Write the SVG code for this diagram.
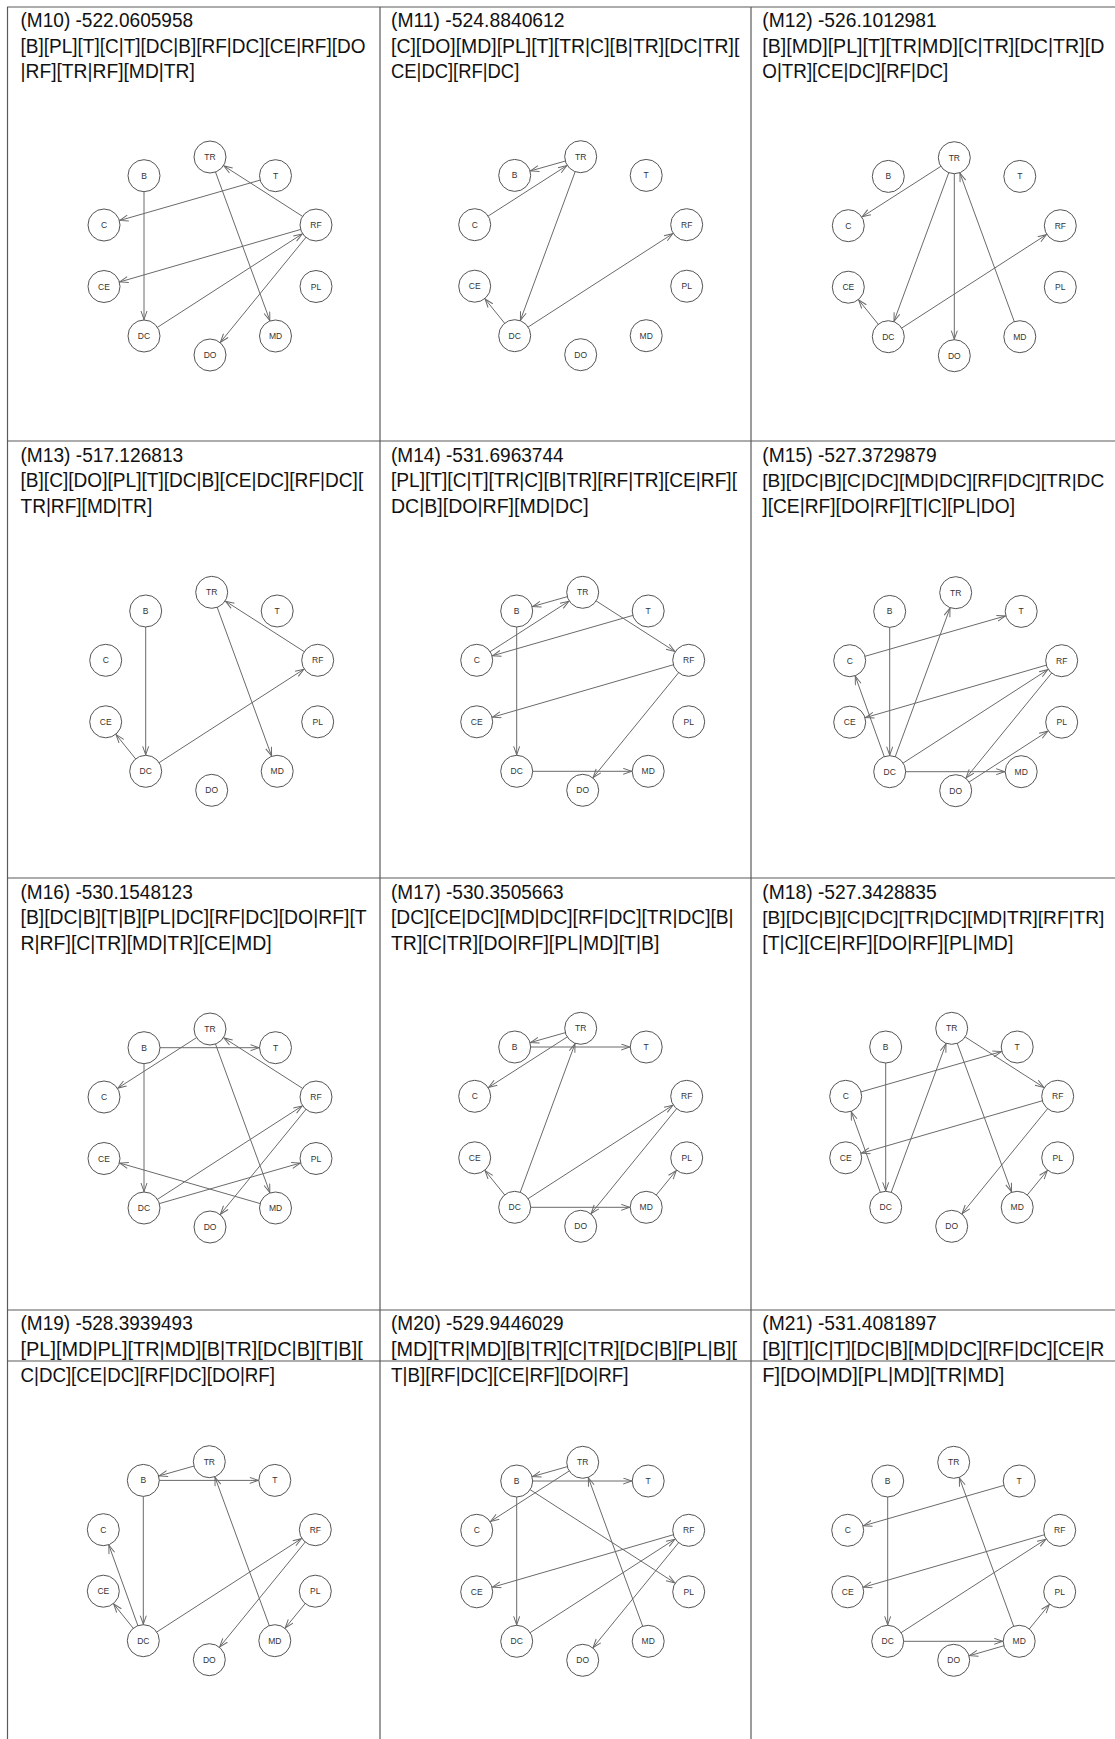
<svg xmlns="http://www.w3.org/2000/svg" width="1115" height="1739" viewBox="0 0 1115 1739">
<style>
.grid line{stroke:#5a5a5a;stroke-width:1.2}
.t{font-family:"Liberation Sans",Arial,sans-serif;font-size:20px;fill:#111}
.n circle{fill:#fff;stroke:#555;stroke-width:1}
.n text{font-family:"Liberation Sans",Arial,sans-serif;font-size:8.5px;fill:#333;text-anchor:middle}
.e line{stroke:#6a6a6a;stroke-width:1;marker-end:url(#a)}
</style>
<defs>
<marker id="a" markerUnits="userSpaceOnUse" markerWidth="10" markerHeight="8" refX="25.5" refY="3.5" orient="auto"><path d="M0.5,0.5 L9,3.5 L0.5,6.5" fill="none" stroke="#6a6a6a" stroke-width="1"/></marker>
</defs>
<rect width="1115" height="1739" fill="#fff"/>
<g id="grid" class="grid">
<line x1="7" y1="7" x2="1115" y2="7"/>
<line x1="7" y1="441" x2="1115" y2="441"/>
<line x1="7" y1="878" x2="1115" y2="878"/>
<line x1="7" y1="1310" x2="1115" y2="1310"/>
<line x1="7" y1="1361" x2="1115" y2="1361"/>
<line x1="7.5" y1="7" x2="7.5" y2="1739"/>
<line x1="380" y1="7" x2="380" y2="1739"/>
<line x1="751" y1="7" x2="751" y2="1739"/>
</g>
<g id="titles" class="t">
<text x="20.5" y="27.3" textLength="172.6" lengthAdjust="spacingAndGlyphs">(M10) -522.0605958</text>
<text x="20.5" y="52.8" textLength="345" lengthAdjust="spacingAndGlyphs">[B][PL][T][C|T][DC|B][RF|DC][CE|RF][DO</text>
<text x="20.5" y="78.3" textLength="174.3" lengthAdjust="spacingAndGlyphs">|RF][TR|RF][MD|TR]</text>
<text x="391" y="27.3" textLength="173.6" lengthAdjust="spacingAndGlyphs">(M11) -524.8840612</text>
<text x="391" y="52.8" textLength="348.3" lengthAdjust="spacingAndGlyphs">[C][DO][MD][PL][T][TR|C][B|TR][DC|TR][</text>
<text x="391" y="78.3" textLength="128.3" lengthAdjust="spacingAndGlyphs">CE|DC][RF|DC]</text>
<text x="762.3" y="27.3" textLength="174.4" lengthAdjust="spacingAndGlyphs">(M12) -526.1012981</text>
<text x="762.3" y="52.8" textLength="342" lengthAdjust="spacingAndGlyphs">[B][MD][PL][T][TR|MD][C|TR][DC|TR][D</text>
<text x="762.3" y="78.3" textLength="186" lengthAdjust="spacingAndGlyphs">O|TR][CE|DC][RF|DC]</text>
<text x="20.5" y="461.7" textLength="162.7" lengthAdjust="spacingAndGlyphs">(M13) -517.126813</text>
<text x="20.5" y="487.3" textLength="342.7" lengthAdjust="spacingAndGlyphs">[B][C][DO][PL][T][DC|B][CE|DC][RF|DC][</text>
<text x="20.5" y="513.3" textLength="131.7" lengthAdjust="spacingAndGlyphs">TR|RF][MD|TR]</text>
<text x="391" y="461.7" textLength="172.6" lengthAdjust="spacingAndGlyphs">(M14) -531.6963744</text>
<text x="391" y="487.3" textLength="346" lengthAdjust="spacingAndGlyphs">[PL][T][C|T][TR|C][B|TR][RF|TR][CE|RF][</text>
<text x="391" y="513.3" textLength="197.6" lengthAdjust="spacingAndGlyphs">DC|B][DO|RF][MD|DC]</text>
<text x="762.3" y="461.7" textLength="174.4" lengthAdjust="spacingAndGlyphs">(M15) -527.3729879</text>
<text x="762.3" y="487.3" font-size="19" textLength="342" lengthAdjust="spacingAndGlyphs">[B][DC|B][C|DC][MD|DC][RF|DC][TR|DC</text>
<text x="762.3" y="513.3" textLength="252.7" lengthAdjust="spacingAndGlyphs">][CE|RF][DO|RF][T|C][PL|DO]</text>
<text x="20.5" y="898.5" textLength="172.2" lengthAdjust="spacingAndGlyphs">(M16) -530.1548123</text>
<text x="20.5" y="924.3" textLength="346.2" lengthAdjust="spacingAndGlyphs">[B][DC|B][T|B][PL|DC][RF|DC][DO|RF][T</text>
<text x="20.5" y="950.3" textLength="251.2" lengthAdjust="spacingAndGlyphs">R|RF][C|TR][MD|TR][CE|MD]</text>
<text x="391" y="898.5" textLength="172.6" lengthAdjust="spacingAndGlyphs">(M17) -530.3505663</text>
<text x="391" y="924.3" textLength="342.6" lengthAdjust="spacingAndGlyphs">[DC][CE|DC][MD|DC][RF|DC][TR|DC][B|</text>
<text x="391" y="950.3" textLength="268.3" lengthAdjust="spacingAndGlyphs">TR][C|TR][DO|RF][PL|MD][T|B]</text>
<text x="762.3" y="898.5" textLength="174.4" lengthAdjust="spacingAndGlyphs">(M18) -527.3428835</text>
<text x="762.3" y="924.3" font-size="19" textLength="342" lengthAdjust="spacingAndGlyphs">[B][DC|B][C|DC][TR|DC][MD|TR][RF|TR]</text>
<text x="762.3" y="950.3" textLength="251" lengthAdjust="spacingAndGlyphs">[T|C][CE|RF][DO|RF][PL|MD]</text>
<text x="20.5" y="1330" textLength="172.2" lengthAdjust="spacingAndGlyphs">(M19) -528.3939493</text>
<text x="20.5" y="1356" textLength="342.2" lengthAdjust="spacingAndGlyphs">[PL][MD|PL][TR|MD][B|TR][DC|B][T|B][</text>
<text x="20.5" y="1382.3" textLength="254.5" lengthAdjust="spacingAndGlyphs">C|DC][CE|DC][RF|DC][DO|RF]</text>
<text x="391" y="1330" textLength="172.6" lengthAdjust="spacingAndGlyphs">(M20) -529.9446029</text>
<text x="391" y="1356" textLength="346" lengthAdjust="spacingAndGlyphs">[MD][TR|MD][B|TR][C|TR][DC|B][PL|B][</text>
<text x="391" y="1382.3" textLength="237.6" lengthAdjust="spacingAndGlyphs">T|B][RF|DC][CE|RF][DO|RF]</text>
<text x="762.3" y="1330" textLength="174.4" lengthAdjust="spacingAndGlyphs">(M21) -531.4081897</text>
<text x="762.3" y="1356" textLength="342" lengthAdjust="spacingAndGlyphs">[B][T][C|T][DC|B][MD|DC][RF|DC][CE|R</text>
<text x="762.3" y="1382.3" textLength="242" lengthAdjust="spacingAndGlyphs">F][DO|MD][PL|MD][TR|MD]</text>
</g>

<g id="m10" transform="translate(210,157)">
<g id="m10-edges" class="e">
<line x1="65.5" y1="18.7" x2="-106" y2="68"/>
<line x1="-66" y1="18.7" x2="-66" y2="179"/>
<line x1="-66" y1="179" x2="106" y2="68"/>
<line x1="106" y1="68" x2="-106" y2="129.5"/>
<line x1="106" y1="68" x2="0" y2="198"/>
<line x1="106" y1="68" x2="0" y2="0"/>
<line x1="0" y1="0" x2="65.5" y2="179"/>
</g>
<g id="m10-TR" class="n"><circle cx="0" cy="0" r="16"/><text x="0" y="3">TR</text></g>
<g id="m10-B" class="n"><circle cx="-66" cy="18.7" r="16"/><text x="-66" y="21.7">B</text></g>
<g id="m10-T" class="n"><circle cx="65.5" cy="18.7" r="16"/><text x="65.5" y="21.7">T</text></g>
<g id="m10-C" class="n"><circle cx="-106" cy="68" r="16"/><text x="-106" y="71">C</text></g>
<g id="m10-RF" class="n"><circle cx="106" cy="68" r="16"/><text x="106" y="71">RF</text></g>
<g id="m10-CE" class="n"><circle cx="-106" cy="129.5" r="16"/><text x="-106" y="132.5">CE</text></g>
<g id="m10-PL" class="n"><circle cx="106" cy="129.5" r="16"/><text x="106" y="132.5">PL</text></g>
<g id="m10-DC" class="n"><circle cx="-66" cy="179" r="16"/><text x="-66" y="182">DC</text></g>
<g id="m10-MD" class="n"><circle cx="65.5" cy="179" r="16"/><text x="65.5" y="182">MD</text></g>
<g id="m10-DO" class="n"><circle cx="0" cy="198" r="16"/><text x="0" y="201">DO</text></g>
</g>

<g id="m11" transform="translate(580.7,156.7)">
<g id="m11-edges" class="e">
<line x1="-106" y1="68" x2="0" y2="0"/>
<line x1="0" y1="0" x2="-66" y2="18.7"/>
<line x1="0" y1="0" x2="-66" y2="179"/>
<line x1="-66" y1="179" x2="-106" y2="129.5"/>
<line x1="-66" y1="179" x2="106" y2="68"/>
</g>
<g id="m11-TR" class="n"><circle cx="0" cy="0" r="16"/><text x="0" y="3">TR</text></g>
<g id="m11-B" class="n"><circle cx="-66" cy="18.7" r="16"/><text x="-66" y="21.7">B</text></g>
<g id="m11-T" class="n"><circle cx="65.5" cy="18.7" r="16"/><text x="65.5" y="21.7">T</text></g>
<g id="m11-C" class="n"><circle cx="-106" cy="68" r="16"/><text x="-106" y="71">C</text></g>
<g id="m11-RF" class="n"><circle cx="106" cy="68" r="16"/><text x="106" y="71">RF</text></g>
<g id="m11-CE" class="n"><circle cx="-106" cy="129.5" r="16"/><text x="-106" y="132.5">CE</text></g>
<g id="m11-PL" class="n"><circle cx="106" cy="129.5" r="16"/><text x="106" y="132.5">PL</text></g>
<g id="m11-DC" class="n"><circle cx="-66" cy="179" r="16"/><text x="-66" y="182">DC</text></g>
<g id="m11-MD" class="n"><circle cx="65.5" cy="179" r="16"/><text x="65.5" y="182">MD</text></g>
<g id="m11-DO" class="n"><circle cx="0" cy="198" r="16"/><text x="0" y="201">DO</text></g>
</g>

<g id="m12" transform="translate(954.3,157.7)">
<g id="m12-edges" class="e">
<line x1="65.5" y1="179" x2="0" y2="0"/>
<line x1="0" y1="0" x2="-106" y2="68"/>
<line x1="0" y1="0" x2="-66" y2="179"/>
<line x1="0" y1="0" x2="0" y2="198"/>
<line x1="-66" y1="179" x2="-106" y2="129.5"/>
<line x1="-66" y1="179" x2="106" y2="68"/>
</g>
<g id="m12-TR" class="n"><circle cx="0" cy="0" r="16"/><text x="0" y="3">TR</text></g>
<g id="m12-B" class="n"><circle cx="-66" cy="18.7" r="16"/><text x="-66" y="21.7">B</text></g>
<g id="m12-T" class="n"><circle cx="65.5" cy="18.7" r="16"/><text x="65.5" y="21.7">T</text></g>
<g id="m12-C" class="n"><circle cx="-106" cy="68" r="16"/><text x="-106" y="71">C</text></g>
<g id="m12-RF" class="n"><circle cx="106" cy="68" r="16"/><text x="106" y="71">RF</text></g>
<g id="m12-CE" class="n"><circle cx="-106" cy="129.5" r="16"/><text x="-106" y="132.5">CE</text></g>
<g id="m12-PL" class="n"><circle cx="106" cy="129.5" r="16"/><text x="106" y="132.5">PL</text></g>
<g id="m12-DC" class="n"><circle cx="-66" cy="179" r="16"/><text x="-66" y="182">DC</text></g>
<g id="m12-MD" class="n"><circle cx="65.5" cy="179" r="16"/><text x="65.5" y="182">MD</text></g>
<g id="m12-DO" class="n"><circle cx="0" cy="198" r="16"/><text x="0" y="201">DO</text></g>
</g>

<g id="m13" transform="translate(211.7,592.3)">
<g id="m13-edges" class="e">
<line x1="-66" y1="18.7" x2="-66" y2="179"/>
<line x1="-66" y1="179" x2="-106" y2="129.5"/>
<line x1="-66" y1="179" x2="106" y2="68"/>
<line x1="106" y1="68" x2="0" y2="0"/>
<line x1="0" y1="0" x2="65.5" y2="179"/>
</g>
<g id="m13-TR" class="n"><circle cx="0" cy="0" r="16"/><text x="0" y="3">TR</text></g>
<g id="m13-B" class="n"><circle cx="-66" cy="18.7" r="16"/><text x="-66" y="21.7">B</text></g>
<g id="m13-T" class="n"><circle cx="65.5" cy="18.7" r="16"/><text x="65.5" y="21.7">T</text></g>
<g id="m13-C" class="n"><circle cx="-106" cy="68" r="16"/><text x="-106" y="71">C</text></g>
<g id="m13-RF" class="n"><circle cx="106" cy="68" r="16"/><text x="106" y="71">RF</text></g>
<g id="m13-CE" class="n"><circle cx="-106" cy="129.5" r="16"/><text x="-106" y="132.5">CE</text></g>
<g id="m13-PL" class="n"><circle cx="106" cy="129.5" r="16"/><text x="106" y="132.5">PL</text></g>
<g id="m13-DC" class="n"><circle cx="-66" cy="179" r="16"/><text x="-66" y="182">DC</text></g>
<g id="m13-MD" class="n"><circle cx="65.5" cy="179" r="16"/><text x="65.5" y="182">MD</text></g>
<g id="m13-DO" class="n"><circle cx="0" cy="198" r="16"/><text x="0" y="201">DO</text></g>
</g>

<g id="m14" transform="translate(582.7,592.3)">
<g id="m14-edges" class="e">
<line x1="65.5" y1="18.7" x2="-106" y2="68"/>
<line x1="-106" y1="68" x2="0" y2="0"/>
<line x1="0" y1="0" x2="-66" y2="18.7"/>
<line x1="0" y1="0" x2="106" y2="68"/>
<line x1="106" y1="68" x2="-106" y2="129.5"/>
<line x1="-66" y1="18.7" x2="-66" y2="179"/>
<line x1="106" y1="68" x2="0" y2="198"/>
<line x1="-66" y1="179" x2="65.5" y2="179"/>
</g>
<g id="m14-TR" class="n"><circle cx="0" cy="0" r="16"/><text x="0" y="3">TR</text></g>
<g id="m14-B" class="n"><circle cx="-66" cy="18.7" r="16"/><text x="-66" y="21.7">B</text></g>
<g id="m14-T" class="n"><circle cx="65.5" cy="18.7" r="16"/><text x="65.5" y="21.7">T</text></g>
<g id="m14-C" class="n"><circle cx="-106" cy="68" r="16"/><text x="-106" y="71">C</text></g>
<g id="m14-RF" class="n"><circle cx="106" cy="68" r="16"/><text x="106" y="71">RF</text></g>
<g id="m14-CE" class="n"><circle cx="-106" cy="129.5" r="16"/><text x="-106" y="132.5">CE</text></g>
<g id="m14-PL" class="n"><circle cx="106" cy="129.5" r="16"/><text x="106" y="132.5">PL</text></g>
<g id="m14-DC" class="n"><circle cx="-66" cy="179" r="16"/><text x="-66" y="182">DC</text></g>
<g id="m14-MD" class="n"><circle cx="65.5" cy="179" r="16"/><text x="65.5" y="182">MD</text></g>
<g id="m14-DO" class="n"><circle cx="0" cy="198" r="16"/><text x="0" y="201">DO</text></g>
</g>

<g id="m15" transform="translate(955.7,592.7)">
<g id="m15-edges" class="e">
<line x1="-66" y1="18.7" x2="-66" y2="179"/>
<line x1="-66" y1="179" x2="-106" y2="68"/>
<line x1="-66" y1="179" x2="65.5" y2="179"/>
<line x1="-66" y1="179" x2="106" y2="68"/>
<line x1="-66" y1="179" x2="0" y2="0"/>
<line x1="106" y1="68" x2="-106" y2="129.5"/>
<line x1="106" y1="68" x2="0" y2="198"/>
<line x1="-106" y1="68" x2="65.5" y2="18.7"/>
<line x1="0" y1="198" x2="106" y2="129.5"/>
</g>
<g id="m15-TR" class="n"><circle cx="0" cy="0" r="16"/><text x="0" y="3">TR</text></g>
<g id="m15-B" class="n"><circle cx="-66" cy="18.7" r="16"/><text x="-66" y="21.7">B</text></g>
<g id="m15-T" class="n"><circle cx="65.5" cy="18.7" r="16"/><text x="65.5" y="21.7">T</text></g>
<g id="m15-C" class="n"><circle cx="-106" cy="68" r="16"/><text x="-106" y="71">C</text></g>
<g id="m15-RF" class="n"><circle cx="106" cy="68" r="16"/><text x="106" y="71">RF</text></g>
<g id="m15-CE" class="n"><circle cx="-106" cy="129.5" r="16"/><text x="-106" y="132.5">CE</text></g>
<g id="m15-PL" class="n"><circle cx="106" cy="129.5" r="16"/><text x="106" y="132.5">PL</text></g>
<g id="m15-DC" class="n"><circle cx="-66" cy="179" r="16"/><text x="-66" y="182">DC</text></g>
<g id="m15-MD" class="n"><circle cx="65.5" cy="179" r="16"/><text x="65.5" y="182">MD</text></g>
<g id="m15-DO" class="n"><circle cx="0" cy="198" r="16"/><text x="0" y="201">DO</text></g>
</g>

<g id="m16" transform="translate(210,1029)">
<g id="m16-edges" class="e">
<line x1="-66" y1="18.7" x2="-66" y2="179"/>
<line x1="-66" y1="18.7" x2="65.5" y2="18.7"/>
<line x1="-66" y1="179" x2="106" y2="129.5"/>
<line x1="-66" y1="179" x2="106" y2="68"/>
<line x1="106" y1="68" x2="0" y2="198"/>
<line x1="106" y1="68" x2="0" y2="0"/>
<line x1="0" y1="0" x2="-106" y2="68"/>
<line x1="0" y1="0" x2="65.5" y2="179"/>
<line x1="65.5" y1="179" x2="-106" y2="129.5"/>
</g>
<g id="m16-TR" class="n"><circle cx="0" cy="0" r="16"/><text x="0" y="3">TR</text></g>
<g id="m16-B" class="n"><circle cx="-66" cy="18.7" r="16"/><text x="-66" y="21.7">B</text></g>
<g id="m16-T" class="n"><circle cx="65.5" cy="18.7" r="16"/><text x="65.5" y="21.7">T</text></g>
<g id="m16-C" class="n"><circle cx="-106" cy="68" r="16"/><text x="-106" y="71">C</text></g>
<g id="m16-RF" class="n"><circle cx="106" cy="68" r="16"/><text x="106" y="71">RF</text></g>
<g id="m16-CE" class="n"><circle cx="-106" cy="129.5" r="16"/><text x="-106" y="132.5">CE</text></g>
<g id="m16-PL" class="n"><circle cx="106" cy="129.5" r="16"/><text x="106" y="132.5">PL</text></g>
<g id="m16-DC" class="n"><circle cx="-66" cy="179" r="16"/><text x="-66" y="182">DC</text></g>
<g id="m16-MD" class="n"><circle cx="65.5" cy="179" r="16"/><text x="65.5" y="182">MD</text></g>
<g id="m16-DO" class="n"><circle cx="0" cy="198" r="16"/><text x="0" y="201">DO</text></g>
</g>

<g id="m17" transform="translate(580.7,1028.3)">
<g id="m17-edges" class="e">
<line x1="-66" y1="179" x2="-106" y2="129.5"/>
<line x1="-66" y1="179" x2="65.5" y2="179"/>
<line x1="-66" y1="179" x2="106" y2="68"/>
<line x1="-66" y1="179" x2="0" y2="0"/>
<line x1="0" y1="0" x2="-66" y2="18.7"/>
<line x1="0" y1="0" x2="-106" y2="68"/>
<line x1="106" y1="68" x2="0" y2="198"/>
<line x1="65.5" y1="179" x2="106" y2="129.5"/>
<line x1="-66" y1="18.7" x2="65.5" y2="18.7"/>
</g>
<g id="m17-TR" class="n"><circle cx="0" cy="0" r="16"/><text x="0" y="3">TR</text></g>
<g id="m17-B" class="n"><circle cx="-66" cy="18.7" r="16"/><text x="-66" y="21.7">B</text></g>
<g id="m17-T" class="n"><circle cx="65.5" cy="18.7" r="16"/><text x="65.5" y="21.7">T</text></g>
<g id="m17-C" class="n"><circle cx="-106" cy="68" r="16"/><text x="-106" y="71">C</text></g>
<g id="m17-RF" class="n"><circle cx="106" cy="68" r="16"/><text x="106" y="71">RF</text></g>
<g id="m17-CE" class="n"><circle cx="-106" cy="129.5" r="16"/><text x="-106" y="132.5">CE</text></g>
<g id="m17-PL" class="n"><circle cx="106" cy="129.5" r="16"/><text x="106" y="132.5">PL</text></g>
<g id="m17-DC" class="n"><circle cx="-66" cy="179" r="16"/><text x="-66" y="182">DC</text></g>
<g id="m17-MD" class="n"><circle cx="65.5" cy="179" r="16"/><text x="65.5" y="182">MD</text></g>
<g id="m17-DO" class="n"><circle cx="0" cy="198" r="16"/><text x="0" y="201">DO</text></g>
</g>

<g id="m18" transform="translate(951.7,1028.3)">
<g id="m18-edges" class="e">
<line x1="-66" y1="18.7" x2="-66" y2="179"/>
<line x1="-66" y1="179" x2="-106" y2="68"/>
<line x1="-66" y1="179" x2="0" y2="0"/>
<line x1="0" y1="0" x2="65.5" y2="179"/>
<line x1="0" y1="0" x2="106" y2="68"/>
<line x1="-106" y1="68" x2="65.5" y2="18.7"/>
<line x1="106" y1="68" x2="-106" y2="129.5"/>
<line x1="106" y1="68" x2="0" y2="198"/>
<line x1="65.5" y1="179" x2="106" y2="129.5"/>
</g>
<g id="m18-TR" class="n"><circle cx="0" cy="0" r="16"/><text x="0" y="3">TR</text></g>
<g id="m18-B" class="n"><circle cx="-66" cy="18.7" r="16"/><text x="-66" y="21.7">B</text></g>
<g id="m18-T" class="n"><circle cx="65.5" cy="18.7" r="16"/><text x="65.5" y="21.7">T</text></g>
<g id="m18-C" class="n"><circle cx="-106" cy="68" r="16"/><text x="-106" y="71">C</text></g>
<g id="m18-RF" class="n"><circle cx="106" cy="68" r="16"/><text x="106" y="71">RF</text></g>
<g id="m18-CE" class="n"><circle cx="-106" cy="129.5" r="16"/><text x="-106" y="132.5">CE</text></g>
<g id="m18-PL" class="n"><circle cx="106" cy="129.5" r="16"/><text x="106" y="132.5">PL</text></g>
<g id="m18-DC" class="n"><circle cx="-66" cy="179" r="16"/><text x="-66" y="182">DC</text></g>
<g id="m18-MD" class="n"><circle cx="65.5" cy="179" r="16"/><text x="65.5" y="182">MD</text></g>
<g id="m18-DO" class="n"><circle cx="0" cy="198" r="16"/><text x="0" y="201">DO</text></g>
</g>

<g id="m19" transform="translate(209.3,1461.7)">
<g id="m19-edges" class="e">
<line x1="106" y1="129.5" x2="65.5" y2="179"/>
<line x1="65.5" y1="179" x2="0" y2="0"/>
<line x1="0" y1="0" x2="-66" y2="18.7"/>
<line x1="-66" y1="18.7" x2="-66" y2="179"/>
<line x1="-66" y1="18.7" x2="65.5" y2="18.7"/>
<line x1="-66" y1="179" x2="-106" y2="68"/>
<line x1="-66" y1="179" x2="-106" y2="129.5"/>
<line x1="-66" y1="179" x2="106" y2="68"/>
<line x1="106" y1="68" x2="0" y2="198"/>
</g>
<g id="m19-TR" class="n"><circle cx="0" cy="0" r="16"/><text x="0" y="3">TR</text></g>
<g id="m19-B" class="n"><circle cx="-66" cy="18.7" r="16"/><text x="-66" y="21.7">B</text></g>
<g id="m19-T" class="n"><circle cx="65.5" cy="18.7" r="16"/><text x="65.5" y="21.7">T</text></g>
<g id="m19-C" class="n"><circle cx="-106" cy="68" r="16"/><text x="-106" y="71">C</text></g>
<g id="m19-RF" class="n"><circle cx="106" cy="68" r="16"/><text x="106" y="71">RF</text></g>
<g id="m19-CE" class="n"><circle cx="-106" cy="129.5" r="16"/><text x="-106" y="132.5">CE</text></g>
<g id="m19-PL" class="n"><circle cx="106" cy="129.5" r="16"/><text x="106" y="132.5">PL</text></g>
<g id="m19-DC" class="n"><circle cx="-66" cy="179" r="16"/><text x="-66" y="182">DC</text></g>
<g id="m19-MD" class="n"><circle cx="65.5" cy="179" r="16"/><text x="65.5" y="182">MD</text></g>
<g id="m19-DO" class="n"><circle cx="0" cy="198" r="16"/><text x="0" y="201">DO</text></g>
</g>

<g id="m20" transform="translate(582.7,1462.3)">
<g id="m20-edges" class="e">
<line x1="65.5" y1="179" x2="0" y2="0"/>
<line x1="0" y1="0" x2="-66" y2="18.7"/>
<line x1="0" y1="0" x2="-106" y2="68"/>
<line x1="-66" y1="18.7" x2="-66" y2="179"/>
<line x1="-66" y1="18.7" x2="106" y2="129.5"/>
<line x1="-66" y1="18.7" x2="65.5" y2="18.7"/>
<line x1="-66" y1="179" x2="106" y2="68"/>
<line x1="106" y1="68" x2="-106" y2="129.5"/>
<line x1="106" y1="68" x2="0" y2="198"/>
</g>
<g id="m20-TR" class="n"><circle cx="0" cy="0" r="16"/><text x="0" y="3">TR</text></g>
<g id="m20-B" class="n"><circle cx="-66" cy="18.7" r="16"/><text x="-66" y="21.7">B</text></g>
<g id="m20-T" class="n"><circle cx="65.5" cy="18.7" r="16"/><text x="65.5" y="21.7">T</text></g>
<g id="m20-C" class="n"><circle cx="-106" cy="68" r="16"/><text x="-106" y="71">C</text></g>
<g id="m20-RF" class="n"><circle cx="106" cy="68" r="16"/><text x="106" y="71">RF</text></g>
<g id="m20-CE" class="n"><circle cx="-106" cy="129.5" r="16"/><text x="-106" y="132.5">CE</text></g>
<g id="m20-PL" class="n"><circle cx="106" cy="129.5" r="16"/><text x="106" y="132.5">PL</text></g>
<g id="m20-DC" class="n"><circle cx="-66" cy="179" r="16"/><text x="-66" y="182">DC</text></g>
<g id="m20-MD" class="n"><circle cx="65.5" cy="179" r="16"/><text x="65.5" y="182">MD</text></g>
<g id="m20-DO" class="n"><circle cx="0" cy="198" r="16"/><text x="0" y="201">DO</text></g>
</g>

<g id="m21" transform="translate(953.7,1462.3)">
<g id="m21-edges" class="e">
<line x1="65.5" y1="18.7" x2="-106" y2="68"/>
<line x1="-66" y1="18.7" x2="-66" y2="179"/>
<line x1="-66" y1="179" x2="65.5" y2="179"/>
<line x1="-66" y1="179" x2="106" y2="68"/>
<line x1="106" y1="68" x2="-106" y2="129.5"/>
<line x1="65.5" y1="179" x2="0" y2="198"/>
<line x1="65.5" y1="179" x2="106" y2="129.5"/>
<line x1="65.5" y1="179" x2="0" y2="0"/>
</g>
<g id="m21-TR" class="n"><circle cx="0" cy="0" r="16"/><text x="0" y="3">TR</text></g>
<g id="m21-B" class="n"><circle cx="-66" cy="18.7" r="16"/><text x="-66" y="21.7">B</text></g>
<g id="m21-T" class="n"><circle cx="65.5" cy="18.7" r="16"/><text x="65.5" y="21.7">T</text></g>
<g id="m21-C" class="n"><circle cx="-106" cy="68" r="16"/><text x="-106" y="71">C</text></g>
<g id="m21-RF" class="n"><circle cx="106" cy="68" r="16"/><text x="106" y="71">RF</text></g>
<g id="m21-CE" class="n"><circle cx="-106" cy="129.5" r="16"/><text x="-106" y="132.5">CE</text></g>
<g id="m21-PL" class="n"><circle cx="106" cy="129.5" r="16"/><text x="106" y="132.5">PL</text></g>
<g id="m21-DC" class="n"><circle cx="-66" cy="179" r="16"/><text x="-66" y="182">DC</text></g>
<g id="m21-MD" class="n"><circle cx="65.5" cy="179" r="16"/><text x="65.5" y="182">MD</text></g>
<g id="m21-DO" class="n"><circle cx="0" cy="198" r="16"/><text x="0" y="201">DO</text></g>
</g>
</svg>
